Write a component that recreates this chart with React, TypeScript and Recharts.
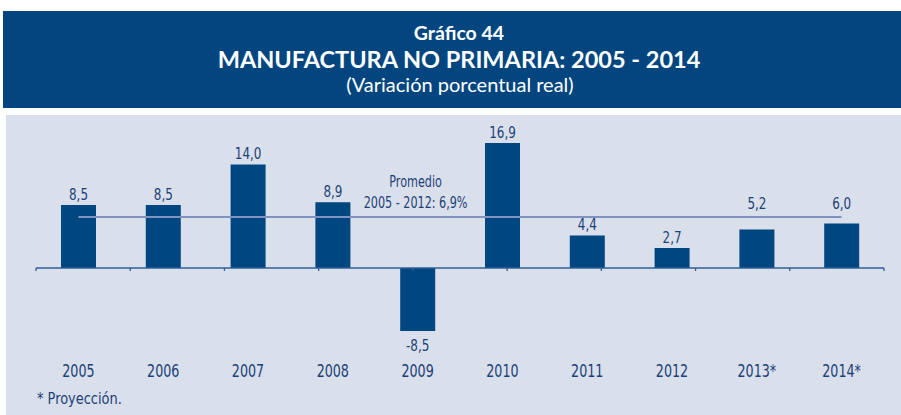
import {
  BarChart,
  Bar,
  XAxis,
  YAxis,
  ReferenceLine,
  ReferenceDot,
  LabelList,
} from 'recharts';

const years = ['2005', '2006', '2007', '2008', '2009', '2010', '2011', '2012', '2013*', '2014*'];
const growth = [8.5, 8.5, 14.0, 8.9, -8.5, 16.9, 4.4, 2.7, 5.2, 6.0];
// 2013 and 2014 are projections
const projected = [false, false, false, false, false, false, false, false, true, true];
const average = 6.9;
const averageFrom = '2005';
const averageTo = '2014*';
const averageLabelAt = '2009';
const averageLabel = ['Promedio', '2005 - 2012: 6,9%'];
const bandEdges = [0, 1, 2, 3, 4, 5, 6, 7, 8, 9, 10];
const yDomain = [-12, 20];

const data = years.map((year, i) => ({ year, value: growth[i] }));

const NAVY = '#03467f';
const TEXT = '#1b3f76';
const AXIS = '#2f5f98';
const NARROW = '"DejaVu Sans Condensed", "Liberation Sans Narrow", "DejaVu Sans", sans-serif';
const TITLE_FONT = 'Lato, "Open Sans", sans-serif';

function fmt(v: number) {
  return v.toFixed(1).replace('.', ',');
}

// the source font is a condensed Gill Sans, so squeeze the text horizontally
function Narrow({ x, y, size, anchor = 'middle', squeeze = 0.83, children }: {
  x: number; y: number; size: number; anchor?: string; squeeze?: number; children: React.ReactNode;
}) {
  return (
    <text
      transform={`translate(${x},${y}) scale(${squeeze},1)`}
      textAnchor={anchor}
      fill={TEXT}
      fontSize={size}
      fontFamily={NARROW}
    >
      {children}
    </text>
  );
}

// eslint-disable-next-line @typescript-eslint/no-explicit-any
function ValueLabel(props: any) {
  const { x, y, width, height, value, index } = props;
  const top = Math.min(y, y + height);
  const bottom = Math.max(y, y + height);
  const cx = x + width / 2;
  if (value < 0) {
    return <Narrow x={cx} y={bottom + 20} size={16}>{fmt(value)}</Narrow>;
  }
  // projections sit below the average line, so their label goes above it
  const lineY = bottom - average * ((bottom - top) / value);
  let baseY = top - 5;
  if (projected[index] && top > lineY - 3) baseY = lineY - 8;
  return <Narrow x={cx} y={baseY} size={16}>{fmt(value)}</Narrow>;
}

// eslint-disable-next-line @typescript-eslint/no-explicit-any
function YearTick({ x, y, payload }: any) {
  return <Narrow x={x} y={y + 20} size={17}>{payload.value}</Narrow>;
}

// eslint-disable-next-line @typescript-eslint/no-explicit-any
function AverageLabel({ viewBox }: any) {
  const cx = viewBox.x + viewBox.width / 2;
  const cy = viewBox.y + viewBox.height / 2;
  return (
    <g>
      <Narrow x={cx - 2} y={cy - 30} size={15}>{averageLabel[0]}</Narrow>
      <Narrow x={cx - 2} y={cy - 9} size={15}>{averageLabel[1]}</Narrow>
    </g>
  );
}

export default function App() {
  return (
    <div style={{ position: 'absolute', left: 0, top: 0, width: 901, height: 415, background: '#fff', overflow: 'hidden' }}>
      <div style={{ position: 'absolute', left: 3, top: 11, width: 898, height: 97, background: NAVY }} />
      <div style={{ position: 'absolute', left: 6, top: 115, width: 895, height: 300, background: '#dadfec' }} />
      <svg width={901} height={415} style={{ position: 'absolute', left: 0, top: 0 }}>
        <g fill="#fff" textAnchor="middle">
          <text x={459} y={40} fontFamily={TITLE_FONT} fontWeight={700} fontSize={19.5}>Gráfico 44</text>
          <text x={459} y={68} fontFamily={TITLE_FONT} fontWeight={700} fontSize={23.5}>
            MANUFACTURA NO PRIMARIA: 2005 - 2014
          </text>
          <text x={460} y={92} fontFamily={TITLE_FONT} fontSize={20}>(Variación porcentual real)</text>
        </g>
        <Narrow x={37} y={404} size={16} anchor="start" squeeze={0.9}>* Proyección.</Narrow>
      </svg>
      <div style={{ position: 'absolute', left: 0, top: 0 }}>
        <BarChart width={901} height={415} data={data} margin={{ top: 120, right: 17, left: 36, bottom: 28.2 }}>
          <XAxis
            dataKey="year"
            axisLine={false}
            tickLine={false}
            tickSize={0}
            tickMargin={0}
            interval={0}
            tick={<YearTick />}
          />
          <XAxis xAxisId="edges" type="number" domain={[0, 10]} hide />
          <YAxis hide domain={yDomain} />
          <Bar dataKey="value" fill="#004680" barSize={35} isAnimationActive={false}>
            <LabelList dataKey="value" content={<ValueLabel />} />
          </Bar>
          <ReferenceLine y={0} stroke={AXIS} strokeWidth={1.3} />
          {bandEdges.map((e) => (
            <ReferenceLine
              key={e}
              xAxisId="edges"
              segment={[{ x: e, y: 0 }, { x: e, y: -0.4 }]}
              stroke={AXIS}
              strokeWidth={1.3}
            />
          ))}
          <ReferenceLine
            segment={[{ x: averageFrom, y: average }, { x: averageTo, y: average }]}
            stroke="#8093bf"
            strokeWidth={2}
          />
          <ReferenceDot
            x={averageLabelAt}
            y={average}
            r={1}
            fill="none"
            stroke="none"
            label={<AverageLabel />}
          />
        </BarChart>
      </div>
    </div>
  );
}
